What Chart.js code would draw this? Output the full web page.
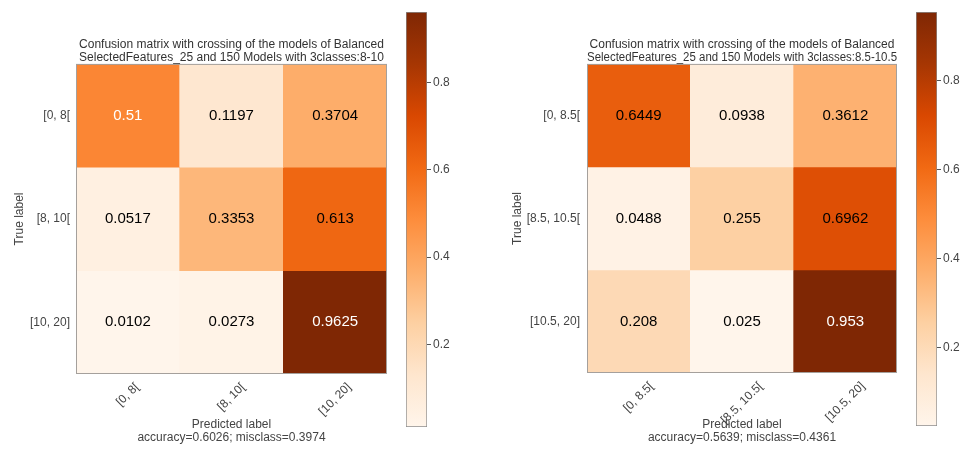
<!DOCTYPE html>
<html>
<head>
<meta charset="utf-8">
<script src="https://cdn.jsdelivr.net/npm/chart.js"></script>
<style>
  html, body { margin: 0; background: #fff; }
  #wrap { position: relative; width: 960px; height: 452px; overflow: hidden; }
  canvas { position: absolute; top: 0; }
</style>
</head>
<body>
<div id="wrap">
  <canvas id="cmLeft" width="400" height="452" style="left:0"></canvas>
  <canvas id="cbLeft" width="60" height="452" style="left:400px"></canvas>
  <canvas id="cmRight" width="420" height="452" style="left:480px"></canvas>
  <canvas id="cbRight" width="50" height="452" style="left:910px"></canvas>
</div>
<script>
// ---- data ----
const leftClasses = ['[0, 8[', '[8, 10[', '[10, 20]'];
const leftMatrix = [
  [0.51, 0.1197, 0.3704],
  [0.0517, 0.3353, 0.613],
  [0.0102, 0.0273, 0.9625]
];
const leftTitle = ['Confusion matrix with crossing of the models of Balanced',
                   'SelectedFeatures_25 and 150 Models with 3classes:8-10'];
const leftScore = 'accuracy=0.6026; misclass=0.3974';

const rightClasses = ['[0, 8.5[', '[8.5, 10.5[', '[10.5, 20]'];
const rightMatrix = [
  [0.6449, 0.0938, 0.3612],
  [0.0488, 0.255, 0.6962],
  [0.208, 0.025, 0.953]
];
const rightTitle = ['Confusion matrix with crossing of the models of Balanced',
                    'SelectedFeatures_25 and 150 Models with 3classes:8.5-10.5'];
const rightScore = 'accuracy=0.5639; misclass=0.4361';

const colorbarTicks = [0.2, 0.4, 0.6, 0.8];

// text colour of the numbers in each cell
const leftTextColors = [['#fff', '#000', '#000'], ['#000', '#000', '#000'], ['#000', '#000', '#fff']];
const rightTextColors = [['#000', '#000', '#000'], ['#000', '#000', '#000'], ['#000', '#000', '#fff']];

// ---- styling ----
const FONT = '"Liberation Sans", Arial, sans-serif';
Chart.defaults.font.family = FONT;
Chart.defaults.font.size = 12;
Chart.defaults.color = '#444';

// matplotlib "Oranges"
const oranges = ['#fff5eb', '#fee6ce', '#fdd0a2', '#fdae6b', '#fd8d3c', '#f16913', '#d94801', '#a63603', '#7f2704'];

function hexToRgb(h) {
  return [parseInt(h.slice(1, 3), 16), parseInt(h.slice(3, 5), 16), parseInt(h.slice(5, 7), 16)];
}
function orangeAt(t) {
  t = Math.min(1, Math.max(0, t));
  const pos = t * (oranges.length - 1);
  const i = Math.min(Math.floor(pos), oranges.length - 2);
  const f = pos - i;
  const a = hexToRgb(oranges[i]), b = hexToRgb(oranges[i + 1]);
  const c = a.map((v, k) => Math.round(v + (b[k] - v) * f));
  return 'rgb(' + c.join(',') + ')';
}

function heatmap(id, matrix, classes, title, score, textColors, box) {
  const flat = matrix.flat();
  const vmin = Math.min(...flat), vmax = Math.max(...flat);

  const cellPlugin = {
    id: 'cells',
    afterDatasetsDraw(chart) {
      const ctx = chart.ctx;
      ctx.save();
      ctx.font = '15px ' + FONT;
      ctx.textAlign = 'center';
      ctx.textBaseline = 'middle';
      matrix.forEach((row, r) => {
        chart.getDatasetMeta(r).data.forEach((bar, c) => {
          const p = bar.getProps(['x', 'y', 'base'], true);
          ctx.fillStyle = textColors[r][c];
          ctx.fillText(String(row[c]), p.x, (p.y + p.base) / 2);
        });
      });
      ctx.restore();
    },
    afterDraw(chart) {
      const { ctx, chartArea: a, scales } = chart;
      ctx.save();
      ctx.strokeStyle = '#a5a09c';
      ctx.lineWidth = 1;
      ctx.strokeRect(a.left + 0.5, a.top + 0.5, a.width - 1, a.height - 1);
      // rotated column labels, centred under each column like matplotlib
      ctx.font = '12px ' + FONT;
      ctx.fillStyle = '#444';
      ctx.textAlign = 'center';
      ctx.textBaseline = 'middle';
      classes.forEach((lab, i) => {
        const x = scales.x.getPixelForValue(i);
        const w = ctx.measureText(lab).width;
        const y = a.bottom + 7 + (w + 12) * Math.SQRT1_2 / 2;
        ctx.save();
        ctx.translate(x, y);
        ctx.rotate(-Math.PI / 4);
        ctx.fillText(lab, 0, 0);
        ctx.restore();
      });
      ctx.restore();
    }
  };

  new Chart(document.getElementById(id), {
    type: 'bar',
    data: {
      labels: classes,
      datasets: matrix.map((row, r) => ({
        data: row.map(() => [r, r + 1]),
        backgroundColor: row.map(v => orangeAt((v - vmin) / (vmax - vmin))),
        borderWidth: 0,
        barPercentage: 1,
        categoryPercentage: 1,
        grouped: false
      }))
    },
    options: {
      responsive: false,
      animation: false,
      layout: { padding: { right: box.padRight } },
      plugins: {
        legend: { display: false },
        tooltip: { enabled: false },
        title: {
          display: true, text: title, fullSize: false, color: '#333',
          font: { size: 12, weight: 'normal', lineHeight: 1.05 },
          padding: { top: 38.7, bottom: 0 }
        }
      },
      scales: {
        x: {
          grid: { display: false, drawTicks: false }, border: { display: false },
          ticks: { display: false },
          title: {
            display: true, text: ['Predicted label', score], color: '#444',
            font: { size: 12, lineHeight: 1.1 }, padding: { top: 0, bottom: 8 }
          },
          afterFit: s => { s.height = box.xHeight; }
        },
        y: { type: 'linear', display: false, min: 0, max: 3, reverse: true },
        rows: {
          type: 'category', labels: classes, offset: true, position: 'left',
          grid: { display: false, drawTicks: false }, border: { display: false },
          ticks: { color: '#444', padding: box.tickPad },
          title: { display: true, text: 'True label', color: '#444', padding: { top: box.titlePad, bottom: 0 } },
          afterFit: s => { s.width = box.axisWidth; }
        }
      }
    },
    plugins: [cellPlugin]
  });
  return [vmin, vmax];
}

function colorbar(id, range, box) {
  const [vmin, vmax] = range;
  new Chart(document.getElementById(id), {
    type: 'bar',
    data: {
      labels: [''],
      datasets: [{
        data: [[vmin, vmax]],
        backgroundColor: c => {
          const a = c.chart.chartArea;
          if (!a) return oranges[4];
          const g = c.chart.ctx.createLinearGradient(0, a.bottom, 0, a.top);
          oranges.forEach((col, i) => g.addColorStop(i / (oranges.length - 1), col));
          return g;
        },
        borderColor: '#8c8c8c',
        borderWidth: 1,
        borderSkipped: false,
        barPercentage: 1,
        categoryPercentage: 1
      }]
    },
    options: {
      responsive: false,
      animation: false,
      layout: { padding: { left: 6, top: 12, bottom: box.bottomPad } },
      plugins: { legend: { display: false }, tooltip: { enabled: false } },
      scales: {
        x: { display: false },
        y: {
          position: 'right', min: vmin, max: vmax,
          afterBuildTicks: s => { s.ticks = colorbarTicks.map(v => ({ value: v })); },
          grid: { drawOnChartArea: false, drawTicks: true, tickLength: 4, color: '#555' },
          border: { display: false },
          ticks: { color: '#444', padding: 2, callback: v => v.toFixed(1) },
          afterFit: s => { s.width = box.axisWidth; }
        }
      }
    }
  });
}

const leftRange = heatmap('cmLeft', leftMatrix, leftClasses, leftTitle, leftScore, leftTextColors,
  { padRight: 13, axisWidth: 76, tickPad: 6, titlePad: 12.8, xHeight: 78 });
colorbar('cbLeft', leftRange, { bottomPad: 25, axisWidth: 33 });

const rightRange = heatmap('cmRight', rightMatrix, rightClasses, rightTitle, rightScore, rightTextColors,
  { padRight: 3, axisWidth: 107, tickPad: 7, titlePad: 30.8, xHeight: 79 });
colorbar('cbRight', rightRange, { bottomPad: 26, axisWidth: 23 });
</script>
</body>
</html>
